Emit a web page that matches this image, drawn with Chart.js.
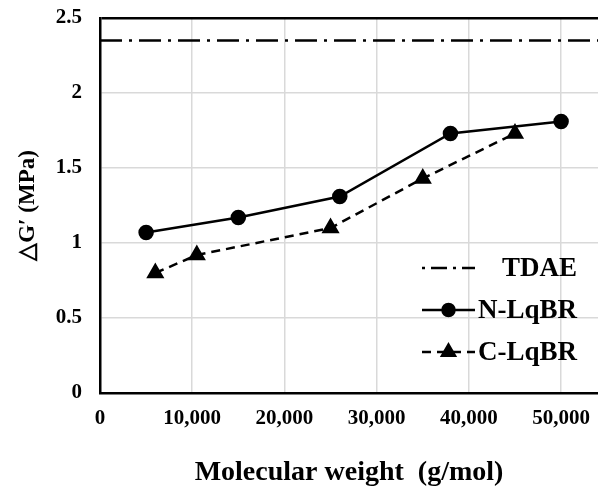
<!DOCTYPE html>
<html>
<head>
<meta charset="utf-8">
<script src="https://cdn.jsdelivr.net/npm/chart.js@4.4.1/dist/chart.umd.min.js"></script>
<style>
    html, body { margin: 0; padding: 0; background: #fff; overflow: hidden; }
    canvas { display: block; }
</style>
</head>
<body>
<canvas id="chart" width="598" height="490"></canvas>
<script>
// values
const nLqbrX = [5000, 15000, 26000, 38000, 50000];
const nLqbrY = [1.07, 1.17, 1.31, 1.73, 1.81];
const cLqbrX = [6000, 10500, 25000, 35000, 45000];
const cLqbrY = [0.80, 0.92, 1.10, 1.43, 1.73];
const tdaeValue = 2.35;
const xTicks = [0, 10000, 20000, 30000, 40000, 50000];
const yTicks = [0, 0.5, 1, 1.5, 2, 2.5];
const xMin = 0;
const xMax = 54000;

const serif = "'Liberation Serif', 'Times New Roman', serif";
const gridGray = '#d9d9d9';

function toPoints(xs, ys){
    return xs.map((x, i) => ({x: x, y: ys[i]}));
}

const datasets = [
    {
        label: 'TDAE',
        data: [{x: xMin, y: tdaeValue}, {x: xMax, y: tdaeValue}],
        borderColor: '#000',
        borderWidth: 2.5,
        borderDash: [22, 7, 3, 7],
        pointRadius: 0
    },
    {
        label: 'N-LqBR',
        data: toPoints(nLqbrX, nLqbrY),
        borderColor: '#000',
        backgroundColor: '#000',
        borderWidth: 2.5,
        pointStyle: 'circle',
        pointRadius: 6.5
    },
    {
        label: 'C-LqBR',
        data: toPoints(cLqbrX, cLqbrY),
        borderColor: '#000',
        backgroundColor: '#000',
        borderWidth: 2.5,
        borderDash: [9, 6],
        pointStyle: 'triangle',
        pointRadius: 8
    }
];

// plot area runs to the right edge of the canvas, like the reference
const fullWidthArea = {
    id: 'fullWidthArea',
    afterLayout(chart){
        const area = chart.chartArea;
        area.right = chart.width;
        area.width = area.right - area.left;
        const x = chart.scales.x;
        x.right = chart.width;
        x.width = x.right - x.left;
        x.configure();
    }
};

// legend drawn inside the plot, lower right
const insideLegend = {
    id: 'insideLegend',
    afterDraw(chart){
        const ctx = chart.ctx;
        const rows = [
            {ds: datasets[0], y: 268, textX: 502},
            {ds: datasets[1], y: 310, textX: 478},
            {ds: datasets[2], y: 352, textX: 478}
        ];
        const x0 = 422, x1 = 475;
        ctx.save();
        rows.forEach(row => {
            ctx.strokeStyle = '#000';
            ctx.lineWidth = 2.5;
            ctx.setLineDash(row.ds.label === 'TDAE' ? [3, 6, 16, 6] : (row.ds.borderDash || []));
            ctx.beginPath();
            ctx.moveTo(x0, row.y);
            ctx.lineTo(x1, row.y);
            ctx.stroke();
            ctx.setLineDash([]);
            if (row.ds.pointRadius > 0) {
                ctx.fillStyle = '#000';
                Chart.helpers.drawPoint(ctx, {
                    pointStyle: row.ds.pointStyle,
                    radius: row.ds.pointRadius - 0.5,
                    rotation: 0,
                    borderWidth: 1
                }, (x0 + x1) / 2, row.y);
            }
            ctx.fillStyle = '#000';
            ctx.font = 'bold 27px ' + serif;
            ctx.textAlign = 'left';
            ctx.textBaseline = 'middle';
            ctx.fillText(row.ds.label, row.textX, row.y + 1);
        });
        ctx.restore();
    }
};

new Chart(document.getElementById('chart'), {
    type: 'line',
    data: { datasets: datasets },
    plugins: [fullWidthArea, insideLegend],
    options: {
        responsive: false,
        animation: false,
        devicePixelRatio: 1,
        layout: { padding: { top: 18, right: 0, bottom: 0, left: 0 } },
        plugins: {
            legend: { display: false },
            tooltip: { enabled: false }
        },
        scales: {
            x: {
                type: 'linear',
                min: xMin,
                max: xMax,
                afterBuildTicks: function(scale){
                    scale.ticks = xTicks.map(v => ({value: v}));
                },
                afterFit: function(scale){
                    scale.height = 97;
                    scale.paddingLeft = 0;
                    scale.paddingRight = 0;
                },
                grid: { color: gridGray, lineWidth: 1.5, drawTicks: false },
                border: { display: true, color: '#000', width: 2.5 },
                ticks: {
                    padding: 13,
                    color: '#000',
                    font: { family: serif, size: 21, weight: 'bold' },
                    callback: function(value){
                        return Number(value).toLocaleString('en-US');
                    }
                },
                title: {
                    display: true,
                    text: 'Molecular weight  (g/mol)',
                    color: '#000',
                    font: { family: serif, size: 28, weight: 'bold' },
                    padding: { top: 0, bottom: 0 }
                }
            },
            y: {
                type: 'linear',
                min: 0,
                max: 2.5,
                afterBuildTicks: function(scale){
                    scale.ticks = yTicks.map(v => ({value: v}));
                },
                afterFit: function(scale){
                    scale.width = 100;
                    scale.paddingTop = 0;
                    scale.paddingBottom = 0;
                },
                grid: {
                    drawTicks: false,
                    // top gridline doubles as the plot frame
                    color: ctx => ctx.tick && ctx.tick.value === 2.5 ? '#000' : gridGray,
                    lineWidth: ctx => ctx.tick && ctx.tick.value === 2.5 ? 2.5 : 1.5
                },
                border: { display: true, color: '#000', width: 2.5 },
                ticks: {
                    padding: 18,
                    color: '#000',
                    font: { family: serif, size: 21, weight: 'bold' },
                    callback: function(value){
                        return String(value);
                    }
                },
                title: {
                    display: true,
                    text: '△G′ (MPa)',
                    color: '#000',
                    font: { family: serif, size: 23, weight: 'bold' },
                    padding: { top: 14, bottom: 0 }
                }
            }
        }
    }
});
</script>
</body>
</html>
